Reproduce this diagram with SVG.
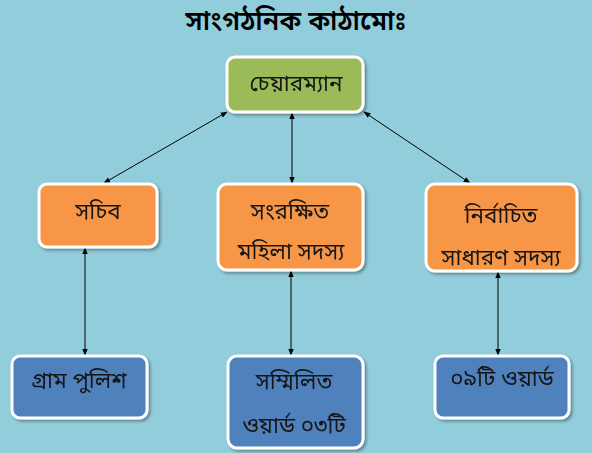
<svg xmlns="http://www.w3.org/2000/svg" width="592" height="453" viewBox="0 0 592 453">
<defs>
<style>
.bg{fill:#92CDDC}
.box{stroke:#ffffff;stroke-width:3}
.g{fill:#9BBB59}
.o{fill:#F79646}
.b{fill:#4F81BD}
.t{font-family:"Noto Sans Bengali","Noto Sans","Lohit Bengali","FreeSans",sans-serif;font-size:22.5px;fill:#161616;text-anchor:middle}
.title{font-family:"Noto Sans Bengali","Noto Sans","Lohit Bengali","FreeSans",sans-serif;font-size:27px;font-weight:600;fill:#000000;text-anchor:middle}
.c{stroke:#000000;stroke-width:1;fill:none;marker-start:url(#ah);marker-end:url(#ah)}
</style>
<marker id="ah" viewBox="0 0 10 10" refX="9" refY="5" markerWidth="7" markerHeight="7" orient="auto-start-reverse" markerUnits="userSpaceOnUse">
<path d="M0,1 L10,5 L0,9 z" fill="#000"/>
</marker>
<filter id="sh" x="-10%" y="-10%" width="130%" height="130%">
<feDropShadow dx="2" dy="2" stdDeviation="1.5" flood-color="#000" flood-opacity="0.35"/>
</filter>
</defs>
<rect class="bg" x="0" y="0" width="592" height="453"/>
<text class="title" x="296" y="30">সাংগঠনিক কাঠামোঃ</text>
<g id="connectors">
<line class="c" x1="227" y1="112" x2="104" y2="183"/>
<line class="c" x1="292" y1="113" x2="292" y2="183"/>
<line class="c" x1="364" y1="112" x2="470" y2="183"/>
<line class="c" x1="85" y1="248" x2="85" y2="355"/>
<line class="c" x1="291" y1="271" x2="291" y2="355"/>
<line class="c" x1="498" y1="272" x2="498" y2="355"/>
</g>
<g id="chairman" filter="url(#sh)">
<rect class="box g" x="227" y="57" width="136" height="55" rx="8"/>
<text class="t" x="296" y="91">চেয়ারম্যান</text>
</g>
<g id="sachib" filter="url(#sh)">
<rect class="box o" x="39" y="184" width="118" height="63" rx="8"/>
<text class="t" x="98" y="219">সচিব</text>
</g>
<g id="songrokkhito" filter="url(#sh)">
<rect class="box o" x="218" y="184" width="145" height="86" rx="9"/>
<text class="t" x="290" y="219">সংরক্ষিত</text>
<text class="t" x="291" y="259">মহিলা সদস্য</text>
</g>
<g id="nirbachito" filter="url(#sh)">
<rect class="box o" x="426" y="184" width="151" height="87" rx="9"/>
<text class="t" x="501" y="223">নির্বাচিত</text>
<text class="t" x="501" y="265">সাধারণ সদস্য</text>
</g>
<g id="gram-pulish" filter="url(#sh)">
<rect class="box b" x="12" y="356" width="135" height="62" rx="8"/>
<text class="t" x="79" y="388">গ্রাম পুলিশ</text>
</g>
<g id="sommilito" filter="url(#sh)">
<rect class="box b" x="228" y="356" width="135" height="92" rx="9"/>
<text class="t" x="294" y="389">সম্মিলিত</text>
<text class="t" x="294" y="433">ওয়ার্ড ০৩টি</text>
</g>
<g id="ward" filter="url(#sh)">
<rect class="box b" x="435" y="356" width="134" height="62" rx="8"/>
<text class="t" x="502" y="386">০৯টি ওয়ার্ড</text>
</g>
</svg>
